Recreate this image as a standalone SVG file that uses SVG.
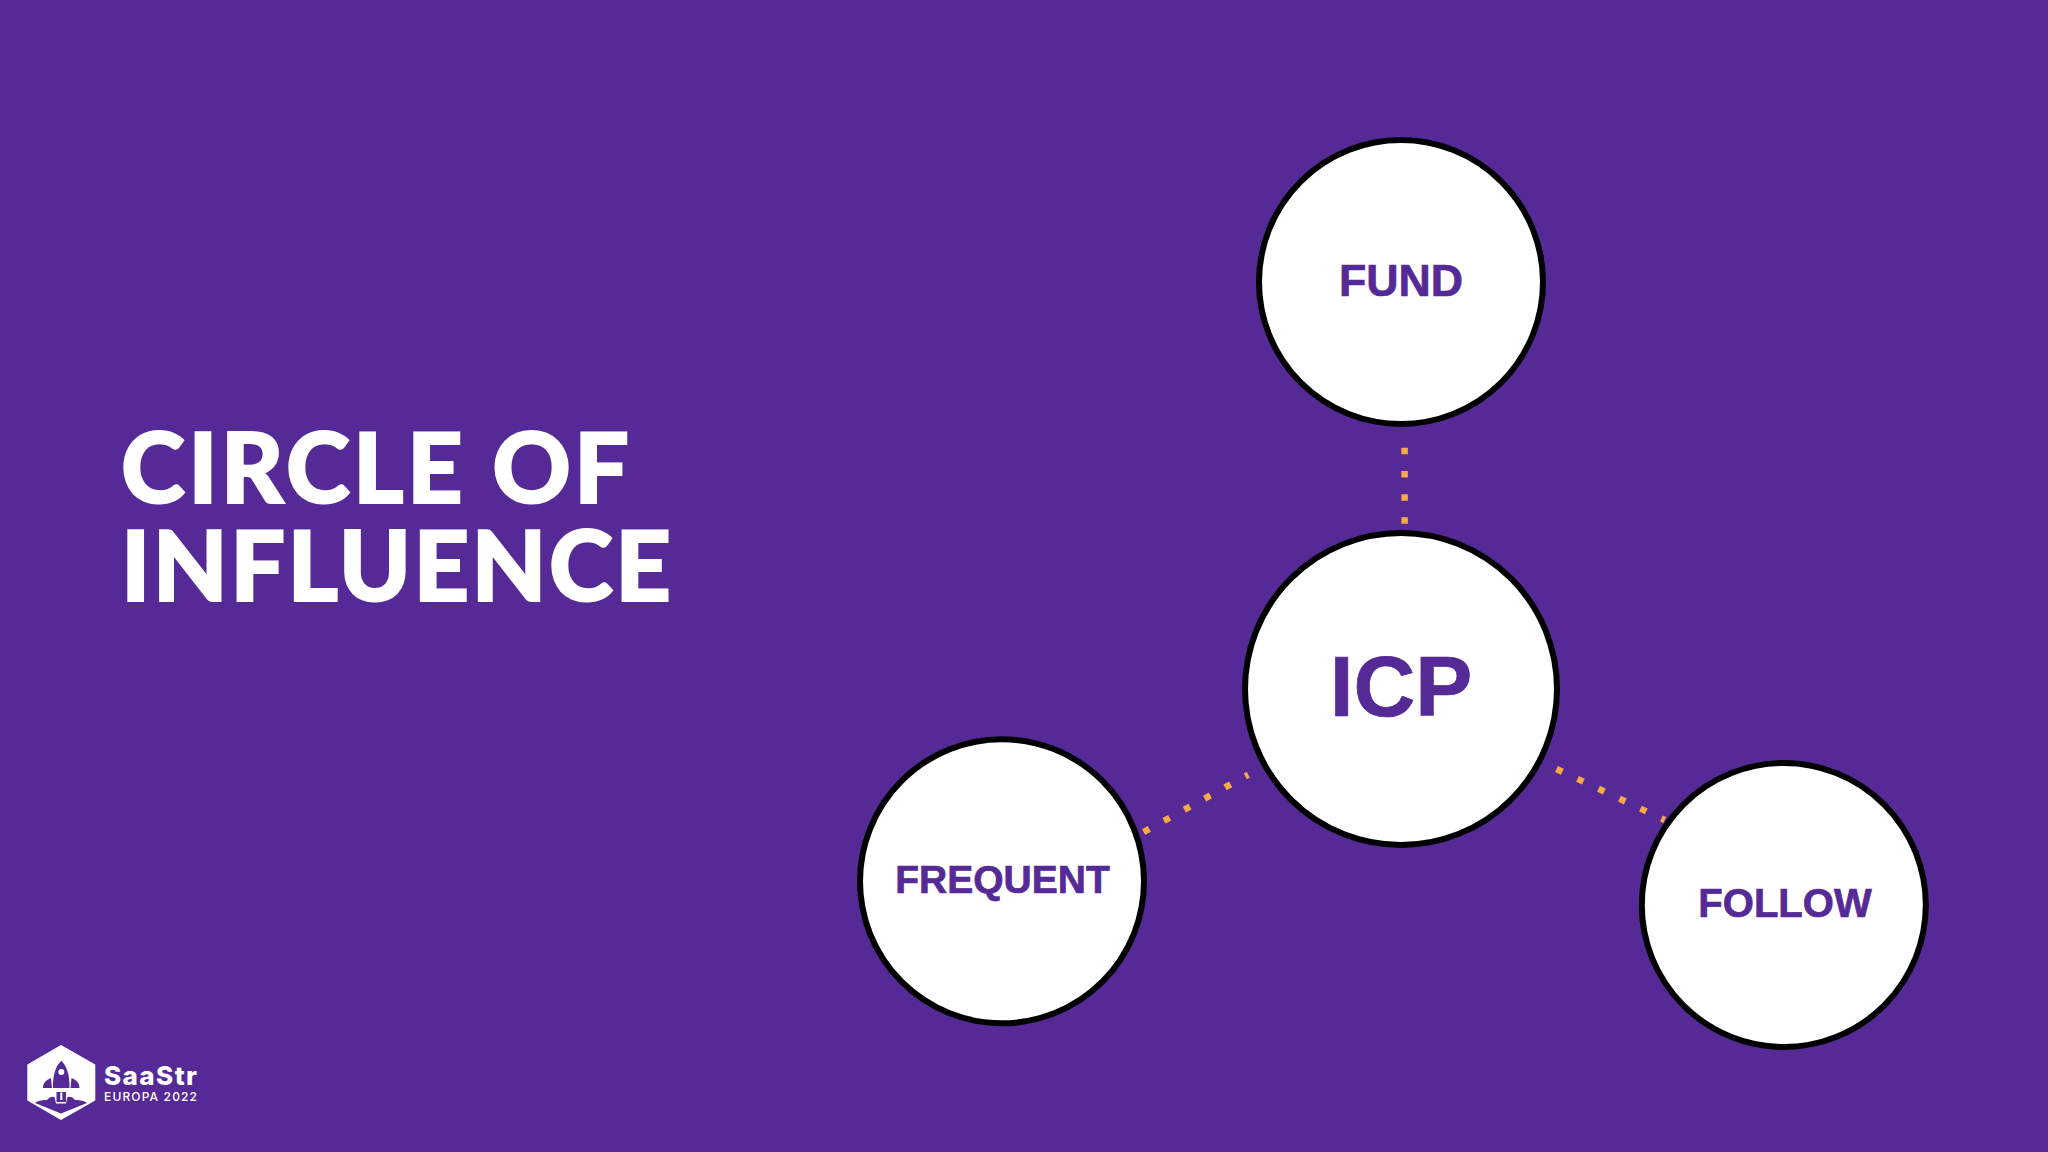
<svg xmlns="http://www.w3.org/2000/svg" width="2048" height="1152" viewBox="0 0 2048 1152">
<style>
.n{fill:#fff;stroke:#000;stroke-width:6}
.l{font-family:"Liberation Sans",Arial,sans-serif;font-weight:700;fill:#552a96;stroke:#552a96;stroke-width:.7;text-anchor:middle}
.t{font-family:Lato,"Liberation Sans",sans-serif;font-weight:900;font-size:97px;fill:#fff;stroke:#fff;stroke-width:2}
.c{stroke:#f9a945;stroke-width:6.5;fill:none;stroke-dasharray:6.5 16.7}
</style>
<rect width="2048" height="1152" fill="#552a96"/>
<g id="connectors">
<path class="c" d="M1404.6 447.750V525"/>
<path class="c" d="M1143.6 832L1248.300 774.700"/>
<path class="c" d="M1556.500 769L1664.700 820"/>
</g>
<g id="fund"><circle class="n" cx="1401" cy="282" r="142"/><text class="l" x="1401" y="296" font-size="44.700">FUND</text></g>
<g id="icp"><circle class="n" cx="1401" cy="689" r="156"/><text class="l" x="1401" y="715.700" font-size="85.600">ICP</text></g>
<g id="frequent"><circle class="n" cx="1002" cy="881.300" r="142"/><text class="l" x="1002.500" y="893.300" font-size="39">FREQUENT</text></g>
<g id="follow"><circle class="n" cx="1783.800" cy="905" r="142"/><text class="l" x="1785" y="917" font-size="40">FOLLOW</text></g>
<g id="title">
<text class="t" x="121" y="503" textLength="508">CIRCLE OF</text>
<text class="t" x="121" y="601" textLength="550">INFLUENCE</text>
</g>
<g id="logo">
<path d="M61 1046L94.300 1065V1100L61 1119L28.300 1100V1065Z" fill="#fff" stroke="#fff" stroke-width="2" stroke-linejoin="round"/>
<path d="M61.300 1060.700C67 1066 70 1076 69.500 1088H53C52.500 1076 55.500 1066 61.300 1060.700ZM51 1078L52 1088H43C43 1083 46 1080 51 1078ZM71.500 1078C76.500 1080 79.500 1083 79.500 1088H70.500Z" fill="#552a96"/>
<path d="M56.500 1092H66V1102H56.500Z" fill="#552a96"/>
<path d="M35 1103C39 1100 44 1100 47 1100C49 1097 52 1096 54.500 1097L56 1103.500H66L67.500 1097C70 1096 73 1097 75 1100C78 1100 83 1100 87 1103L61 1113.500Z" fill="#552a96"/>
<path d="M60.300 1092.500H62.300V1100H60.300Z" fill="#fff"/>
<circle cx="61.300" cy="1072" r="3" fill="#fff"/>
<text x="104" y="1085" font-family="Inter,sans-serif" font-weight="800" font-size="26" fill="#fff" textLength="93">SaaStr</text>
<text x="104" y="1100.500" font-family="Inter,sans-serif" font-weight="500" font-size="12" fill="#fff" textLength="93">EUROPA 2022</text>
</g>
</svg>
